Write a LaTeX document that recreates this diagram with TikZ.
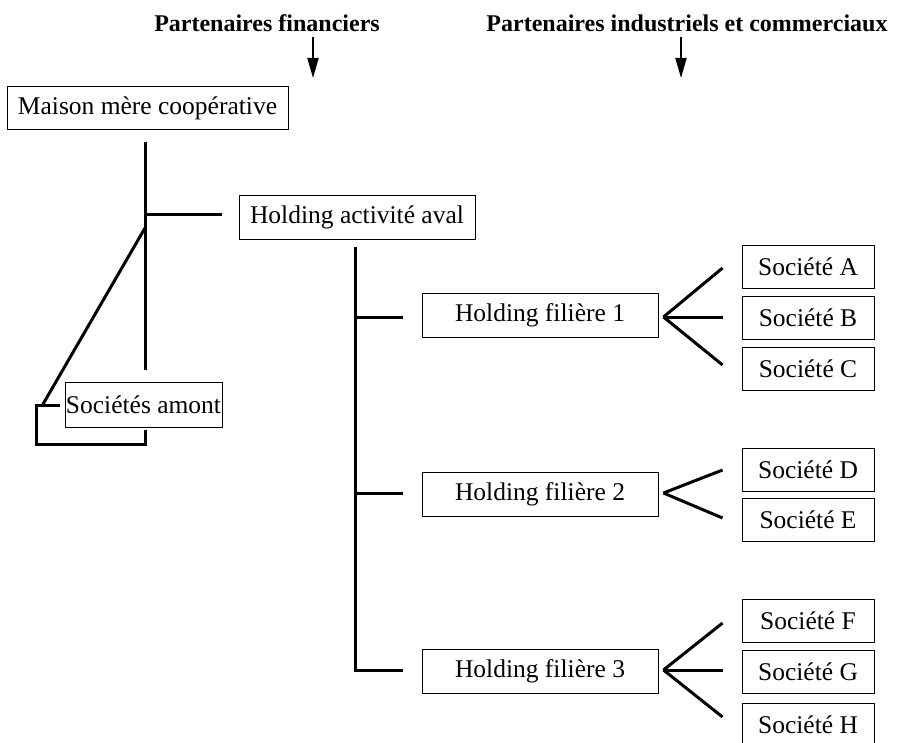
\documentclass[tikz,border=0pt]{standalone}
\usepackage{fontspec}
\setmainfont{Liberation Serif}
\usepackage{tikz}
\usetikzlibrary{arrows.meta}
\usetikzlibrary{positioning,calc}
\tikzset{>={Triangle[length=20pt,width=11pt]},
  boite/.style={draw,line width=0.9pt,inner sep=2pt,minimum height=43pt,
    font=\fontsize{25.5}{28}\selectfont},
  filiere/.style={boite,minimum width=236pt,minimum height=44pt},
  societe/.style={boite,minimum width=132pt},
  trait/.style={line width=3pt},
  titre/.style={anchor=base,font=\bfseries\fontsize{24}{28}\selectfont}}

\begin{document}
\begin{tikzpicture}[x=1pt,y=-1pt]

  \useasboundingbox (0,0) rectangle (901,743);


  \node [titre] (fin) at (267,32) {Partenaires financiers};
  \node [titre] (ind) at (687,32) {Partenaires industriels et commerciaux};

  \coordinate (finhaut) at (313,37);
  \coordinate (finbas) at (313,78);
  \coordinate (indhaut) at (681,37);
  \coordinate (indbas) at (681,78);

  \draw [line width=2pt,->] (finhaut) -- (finbas);
  \draw [line width=2pt,->] (indhaut) -- (indbas);



  \node [boite,minimum width=281pt] (mere) at (147.5,108) {Maison mère coopérative};
  \node [boite,minimum width=236pt,minimum height=44pt] (aval) at (357,217) {Holding activité aval};
  \node [boite,minimum width=157pt,minimum height=45pt,inner sep=1pt] (amont) at (143.5,404.5) {Sociétés amont};

  \coordinate (tronchaut) at (145,142);
  \coordinate (troncbas) at (145,370);
  \coordinate (noeudaval) at (145,215);
  \coordinate (noeudamont) at (145,228);

  \draw [trait] (tronchaut) -- (troncbas);
  \draw [trait] (noeudaval) -- ($(aval.west)+(-17,-2)$);
  \draw [trait] (noeudamont) -- ($(amont.west)+(-22,0.5)$);
  \draw [trait] ($(amont.west)+(-5,0.5)$) -- ++(-23,0) -- ++(0,39) -| ($(amont.south)+(1.5,3)$);



  \node [filiere] (hf1) at (540,315) {Holding filière 1};
  \node [filiere] (hf2) at (540,494.5) {Holding filière 2};
  \node [filiere] (hf3) at (540,671) {Holding filière 3};

  \draw [trait] ($(aval.south)+(-2,8)$) |- ($(hf3.west)+(-19,-1)$);
  \draw [trait] ($(hf1.west)+(-67,2)$) -- ($(hf1.west)+(-19,2)$);
  \draw [trait] ($(hf2.west)+(-67,-1.5)$) -- ($(hf2.west)+(-19,-1.5)$);



  \node [societe] (socA) at (808,267) {Société A};
  \node [societe] (socB) at (808,317.5) {Société B};
  \node [societe] (socC) at (808,368.5) {Société C};

  \node [societe] (socD) at (808,470) {Société D};
  \node [societe] (socE) at (808,519.5) {Société E};

  \node [societe] (socF) at (808,620.5) {Société F};
  \node [societe] (socG) at (808,671.5) {Société G};
  \node [societe] (socH) at (808,724.5) {Société H};


  \foreach \s/\dy in {socA/1,socB/-0.5,socC/-3.5}
    \draw [trait] ($(hf1.east)+(5,2)$) -- ($(\s.west)+(-19,\dy)$);
  \foreach \s/\dy in {socD/0,socE/-1.5}
    \draw [trait] ($(hf2.east)+(5,-1.5)$) -- ($(\s.west)+(-19,\dy)$);
  \foreach \s/\dy in {socF/2.5,socG/-1.5,socH/-7.5}
    \draw [trait] ($(hf3.east)+(5,-1)$) -- ($(\s.west)+(-19,\dy)$);


\end{tikzpicture}
\end{document}
